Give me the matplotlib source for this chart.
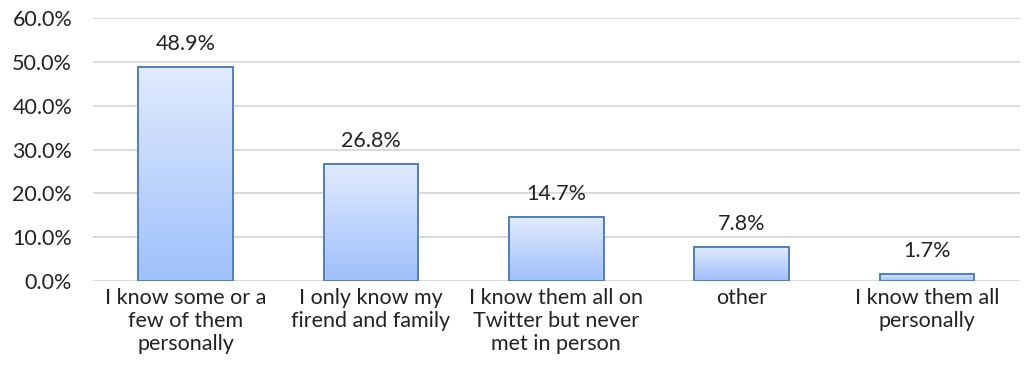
import matplotlib
matplotlib.use('Agg')
import matplotlib.pyplot as plt
import numpy as np
from matplotlib.ticker import FuncFormatter

categories = ['I know some or a\nfew of them\npersonally',
              'I only know my\nfirend and family',
              'I know them all on\nTwitter but never\nmet in person',
              'other',
              'I know them all\npersonally']
shares = [48.9, 26.8, 14.7, 7.8, 1.7]
yticks = [0, 10, 20, 30, 40, 50, 60]

plt.rcParams['font.family'] = ['Lato', 'DejaVu Sans']
plt.rcParams['font.size'] = 15.5

fig = plt.figure(figsize=(10.25, 3.85), dpi=100)
ax = fig.add_axes([0.0907, 0.270, 0.904, 0.683])

x = np.arange(len(shares))
bars = ax.bar(x, shares, width=0.51, facecolor='none', edgecolor='#4f7fc0',
              linewidth=1.4, zorder=3)

# vertical gradient fill inside each bar
grad = np.linspace(0, 1, 256).reshape(-1, 1)
cmap = matplotlib.colors.LinearSegmentedColormap.from_list('bluefade', ['#9fc0fb', '#e1ebfd'])
for b in bars:
    bx, by = b.get_x(), b.get_y()
    w, h = b.get_width(), b.get_height()
    im = ax.imshow(grad, cmap=cmap, aspect='auto', origin='lower',
                   extent=[bx, bx + w, by, by + h], zorder=2)
    im.set_clip_path(b)

for xi, v in zip(x, shares):
    ax.text(xi, v + 2.9, f'{v:.1f}%', ha='center', va='bottom', color='#222222')

ax.set_xlim(-0.5, len(shares) - 0.5)
ax.set_ylim(0, 60)
ax.set_yticks(yticks)
ax.yaxis.set_major_formatter(FuncFormatter(lambda v, p: f'{v:.1f}%'))
ax.set_xticks(x)
ax.set_xticklabels(categories, linespacing=1.2, color='#222222')
ax.tick_params(axis='both', length=0, colors='#222222')
ax.tick_params(axis='y', pad=15)
ax.tick_params(axis='x', pad=5)
ax.grid(axis='y', color='#d9d9d9', linewidth=1.4, zorder=0)
ax.set_axisbelow(True)
for s in ax.spines.values():
    s.set_visible(False)

fig.savefig('out.png', dpi=100)
